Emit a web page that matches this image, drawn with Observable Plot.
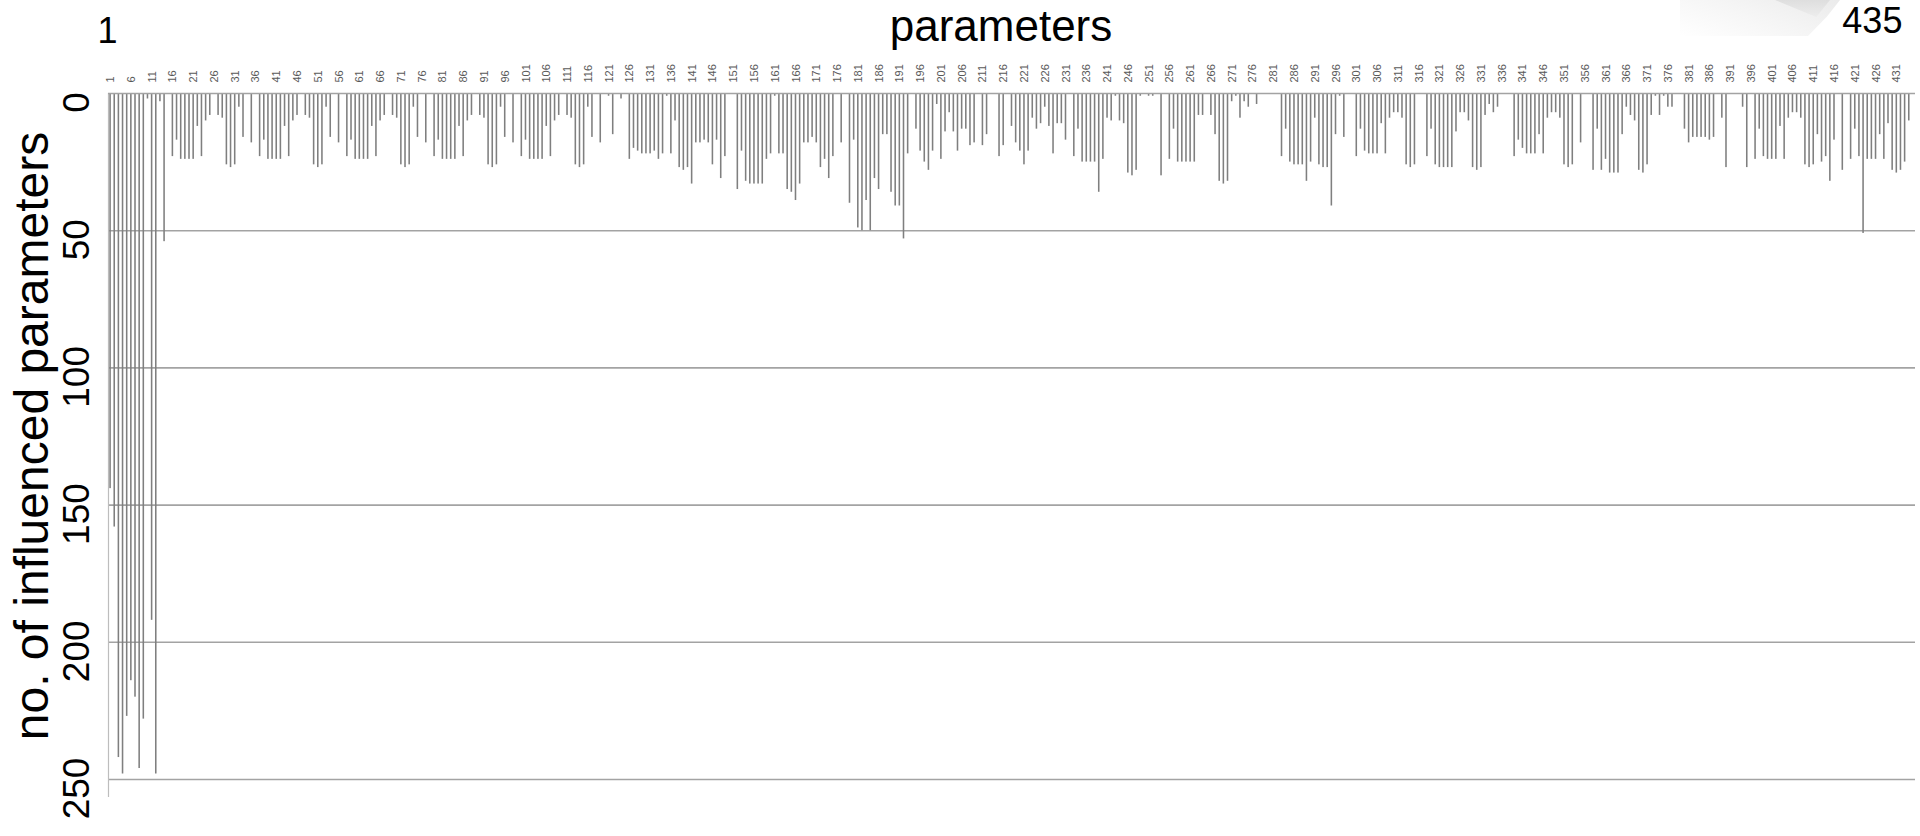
<!DOCTYPE html>
<html>
<head>
<meta charset="utf-8">
<script src="https://cdn.jsdelivr.net/npm/d3@7"></script>
<script src="https://cdn.jsdelivr.net/npm/@observablehq/plot@0.6"></script>
<style>
  html, body { margin: 0; padding: 0; background: #ffffff; }
  #chart { position: relative; width: 1920px; height: 836px; overflow: hidden; }
  #chart svg { position: relative; z-index: 1; background: transparent !important; }
  #shade {
    position: absolute; left: 1680px; top: 0; width: 160px; height: 36px; z-index: 0;
    background: linear-gradient(200deg, #e2e2e2 0%, #f0f0f0 45%, rgba(255,255,255,0) 100%);
    clip-path: polygon(0% 0%, 100% 0%, 92% 45%, 80% 100%, 0% 100%);
    opacity: 0.7;
  }
  #wedge {
    position: absolute; left: 1775px; top: 0; width: 55px; height: 17px; z-index: 0;
    background: linear-gradient(180deg, #dadada, #ececec);
    clip-path: polygon(0% 0%, 100% 0%, 75% 100%);
    opacity: 0.8;
  }
</style>
</head>
<body>
<div id="chart"><div id="shade"></div><div id="wedge"></div></div>
<script>
// ---- data -------------------------------------------------------------
const chartTitle = "parameters";
const yTitle = "no. of influenced parameters";
const firstLabel = 1;
const lastLabel = 435;

// number of influenced parameters for each of the 435 parameters (1..435)
const influenced = [
  144,158,242,248,227,214,220,246,228,2,      // 1-10
  192,248,3,54,0,23,17,24,24,24,             // 11-20
  24,12,23,10,8,0,8,9,26,27,                 // 21-30
  26,5,16,0,18,0,23,17,24,24,                // 31-40
  24,24,12,23,10,8,0,8,9,26,                 // 41-50
  27,26,5,16,0,18,0,23,17,24,                // 51-60
  24,24,24,12,23,10,8,0,8,9,                 // 61-70
  26,27,26,5,16,0,18,0,23,17,                // 71-80
  24,24,24,24,12,23,10,8,0,8,                // 81-90
  9,26,27,26,5,16,0,18,0,23,                 // 91-100
  17,24,24,24,24,12,23,10,8,0,               // 101-110
  8,9,26,27,26,5,16,0,18,0,                  // 111-120
  1,15,0,2,0,24,20,21,22,22,                 // 121-130
  22,21,24,22,1,22,10,27,28,27,              // 131-140
  33,18,18,17,18,26,17,31,23,0,              // 141-150
  0,35,21,32,33,33,33,33,24,22,              // 151-160
  1,22,22,35,36,39,33,18,18,16,              // 161-170
  18,27,24,31,23,0,18,0,40,17,               // 171-180
  49,50,39,50,31,35,15,15,36,41,             // 181-190
  41,53,22,0,13,21,25,28,21,4,               // 191-200
  24,14,7,14,21,13,13,19,18,0,               // 201-210
  19,15,0,0,23,19,0,12,18,21,                // 211-220
  26,21,9,13,11,5,12,22,11,11,               // 221-230
  17,0,23,13,25,25,25,25,36,24,              // 231-240
  9,10,1,10,11,29,30,28,1,0,                 // 241-250
  1,1,0,30,0,24,13,25,25,25,                 // 251-260
  25,25,8,8,0,8,15,32,33,32,                 // 261-270
  3,1,9,3,5,0,4,0,0,0,                       // 271-280
  0,0,23,13,25,26,26,26,32,25,               // 281-290
  9,26,27,27,41,15,1,16,0,0,                 // 291-300
  23,13,21,22,22,22,11,22,9,7,               // 301-310
  7,9,26,27,26,0,0,23,13,26,                 // 311-320
  27,27,27,27,14,7,7,10,27,28,               // 321-330
  27,8,4,7,5,0,0,0,23,17,                    // 331-340
  20,22,22,22,15,22,9,7,7,9,                 // 341-350
  26,27,26,0,18,0,0,28,13,28,                // 351-360
  24,29,29,29,15,5,8,10,28,29,               // 361-370
  26,8,1,8,1,5,5,0,0,13,                     // 371-380
  18,16,16,16,16,17,16,0,9,27,               // 381-390
  0,0,0,5,27,0,24,13,23,24,                  // 391-400
  24,24,12,24,9,7,7,9,26,27,                 // 401-410
  26,15,25,23,32,17,0,28,0,24,               // 411-420
  13,23,51,24,24,24,15,24,11,28,             // 421-430
  29,28,25,10,0                              // 431-435
];

// x tick labels (every fifth parameter)
const xTickLabels = [1,6,11,16,21,26,31,36,41,46,51,56,61,66,71,76,81,86,91,96,
  101,106,111,116,121,126,131,136,141,146,151,156,161,166,171,176,181,186,191,196,
  201,206,211,216,221,226,231,236,241,246,251,256,261,266,271,276,281,286,291,296,
  301,306,311,316,321,326,331,336,341,346,351,356,361,366,371,376,381,386,391,396,
  401,406,411,416,421,426,431];

// y tick labels
const yTickLabels = [0, 50, 100, 150, 200, 250];

// ---- chart ------------------------------------------------------------
const ids = influenced.map((_, i) => i + 1);
const rows = influenced.map((v, i) => ({id: i + 1, value: v}));

const font = "'Liberation Sans', Arial, sans-serif";

const chart = Plot.plot({
  width: 1920,
  height: 836,
  marginTop: 93,
  marginLeft: 108,
  marginRight: 5,
  marginBottom: 40,
  style: {fontFamily: font, background: "transparent", color: "#000", overflow: "visible"},
  x: {type: "band", domain: ids, padding: 0, axis: null},
  y: {domain: [0, 256.2], reverse: true, axis: null},
  marks: [
    Plot.ruleY(yTickLabels.filter(d => d > 0), {stroke: "#a3a3a3", strokeWidth: 1.6}),
    Plot.frame({anchor: "left", stroke: "#bdbdbd", strokeWidth: 1.2}),
    Plot.barY(rows, {x: "id", y: "value", fill: "#7f7f7f", insetLeft: 1.3, insetRight: 1.3}),
    Plot.ruleY([0], {stroke: "#a3a3a3", strokeWidth: 1.6}),
    // x tick labels, rotated
    Plot.text(xTickLabels, {
      x: d => d, frameAnchor: "top", dy: -11, rotate: -90,
      textAnchor: "start", lineAnchor: "middle",
      fontSize: 11, fill: "#595959", text: d => String(d)
    }),
    // y tick labels, rotated
    Plot.text(yTickLabels, {
      y: d => d, frameAnchor: "left", dx: -31, dy: 9, rotate: -90,
      textAnchor: "middle", lineAnchor: "middle",
      fontSize: 37, fill: "#000", text: d => String(d)
    }),
    // first / last parameter labels
    Plot.text([firstLabel], {
      x: d => d, frameAnchor: "top", dy: -62, dx: -3,
      textAnchor: "middle", lineAnchor: "middle", fontSize: 36, fill: "#000",
      text: d => String(d)
    }),
    Plot.text([lastLabel], {
      x: d => d, frameAnchor: "top", dy: -72, dx: -11,
      textAnchor: "end", lineAnchor: "middle", fontSize: 36, fill: "#000",
      text: d => String(d)
    }),
    // title
    Plot.text([chartTitle], {
      frameAnchor: "top", dy: -67, dx: -11, fontSize: 44,
      lineAnchor: "middle", fill: "#000", text: d => d
    }),
    // y axis title
    Plot.text([yTitle], {
      frameAnchor: "left", dx: -76, dy: -9, rotate: -90, fontSize: 48,
      textAnchor: "middle", lineAnchor: "middle", fill: "#000", text: d => d
    })
  ]
});

document.getElementById("chart").appendChild(chart);
</script>
</body>
</html>
